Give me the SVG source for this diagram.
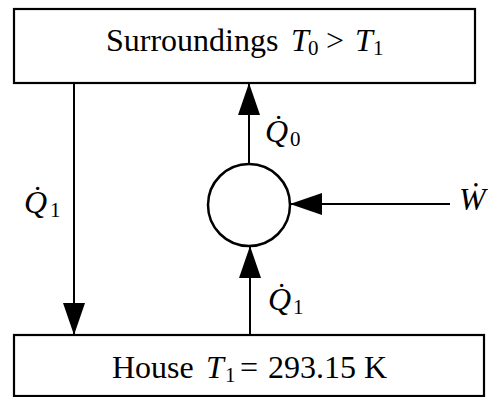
<svg xmlns="http://www.w3.org/2000/svg" width="488" height="397" viewBox="0 0 488 397">
<style>
.box{fill:#fff;stroke:#000;stroke-width:2.2}
.ln{stroke:#000;stroke-width:2;fill:none}
.t{font-family:"Liberation Serif","Times New Roman",serif;font-size:32px;fill:#000}
.i{font-style:italic}
.s{font-size:21px}
</style>
<defs>
<marker id="ah" viewBox="0 0 32 22" refX="32" refY="11" markerWidth="32" markerHeight="22" markerUnits="userSpaceOnUse" orient="auto">
<path d="M0,0 L32,11 L0,22 Z" fill="#000"/>
</marker>
</defs>
<rect width="488" height="397" fill="#fff"/>
<g id="surroundings">
<rect class="box" x="14" y="9" width="461" height="74"/>
<text class="t" x="106" y="51">Surroundings</text>
<text class="t i" x="291" y="51">T</text><text class="t s" x="308" y="55">0</text>
<text class="t" x="326" y="51">&gt;</text>
<text class="t i" x="355" y="51">T</text><text class="t s" x="373" y="55">1</text>
</g>
<g id="house">
<rect class="box" x="14" y="335" width="470" height="61"/>
<text class="t" x="112" y="378">House</text>
<text class="t i" x="206" y="378">T</text><text class="t s" x="225" y="382">1</text>
<text class="t" x="240" y="378">=</text>
<text class="t" x="268" y="378">293.15 K</text>
</g>
<g id="pump">
<circle cx="249" cy="205" r="41" fill="#fff" stroke="#000" stroke-width="2.5"/>
</g>
<g id="connectors">
<line class="ln" x1="74" y1="83" x2="74" y2="335" marker-end="url(#ah)"/>
<line class="ln" x1="249" y1="164" x2="249" y2="83" marker-end="url(#ah)"/>
<line class="ln" x1="250" y1="336" x2="250" y2="246" marker-end="url(#ah)"/>
<line class="ln" x1="450" y1="204" x2="290" y2="204" marker-end="url(#ah)"/>
</g>
<g id="labels">
<text class="t i" x="265" y="142">Q̇</text><text class="t s" x="290" y="146">0</text>
<text class="t i" x="24" y="213">Q̇</text><text class="t s" x="50" y="217">1</text>
<text class="t i" x="268" y="310">Q̇</text><text class="t s" x="293" y="314">1</text>
<text class="t i" x="459" y="210">Ẇ</text>
</g>
</svg>
